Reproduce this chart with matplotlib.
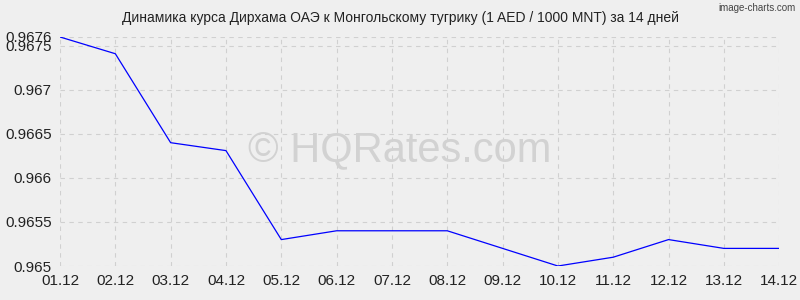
import matplotlib
matplotlib.use("Agg")
import matplotlib.pyplot as plt

dates = ["01.12", "02.12", "03.12", "04.12", "05.12", "06.12", "07.12",
         "08.12", "09.12", "10.12", "11.12", "12.12", "13.12", "14.12"]
rates = [0.9676, 0.96741, 0.9664, 0.96631, 0.9653, 0.9654, 0.9654,
         0.9654, 0.9652, 0.9650, 0.9651, 0.9653, 0.9652, 0.9652]
yticks = [0.965, 0.9655, 0.966, 0.9665, 0.967, 0.9675, 0.9676]
ylabels = ["0.965", "0.9655", "0.966", "0.9665", "0.967", "0.9675", "0.9676"]

plt.rcParams["font.family"] = ["Liberation Sans", "DejaVu Sans"]
bg = "#efefef"

fig = plt.figure(figsize=(8, 3), dpi=100, facecolor=bg)
ax = fig.add_axes([0.075, 0.1133, 0.899, 0.7634], facecolor=bg)

x = list(range(len(dates)))
ax.plot(x, rates, color="#0000ff", lw=0.9)

ax.set_xlim(0, len(dates) - 1)
ax.set_ylim(0.965, 0.9676)
ax.set_xticks(x)
ax.set_xticklabels(dates)
ax.set_yticks(yticks)
ax.set_yticklabels(ylabels)
ax.tick_params(length=0, labelsize=11, colors="#222222", pad=6)
ax.grid(True, color="#d0d0d0", ls=(0, (4, 4)), lw=0.8)
for s in ax.spines.values():
    s.set_visible(False)

fig.text(0.5, 0.94, "Динамика курса Дирхама ОАЭ к Монгольскому тугрику (1 AED / 1000 MNT) за 14 дней",
         fontsize=10, color="#222222", ha="center", va="center")
fig.text(0.5, 0.5, "© HQRates.com", fontsize=30, color="#d2d2d2",
         ha="center", va="center")
fig.text(0.995, 0.99, "image-charts.com", fontsize=7, color="#444444",
         ha="right", va="top")

fig.savefig("out.png", dpi=100, facecolor=bg)
